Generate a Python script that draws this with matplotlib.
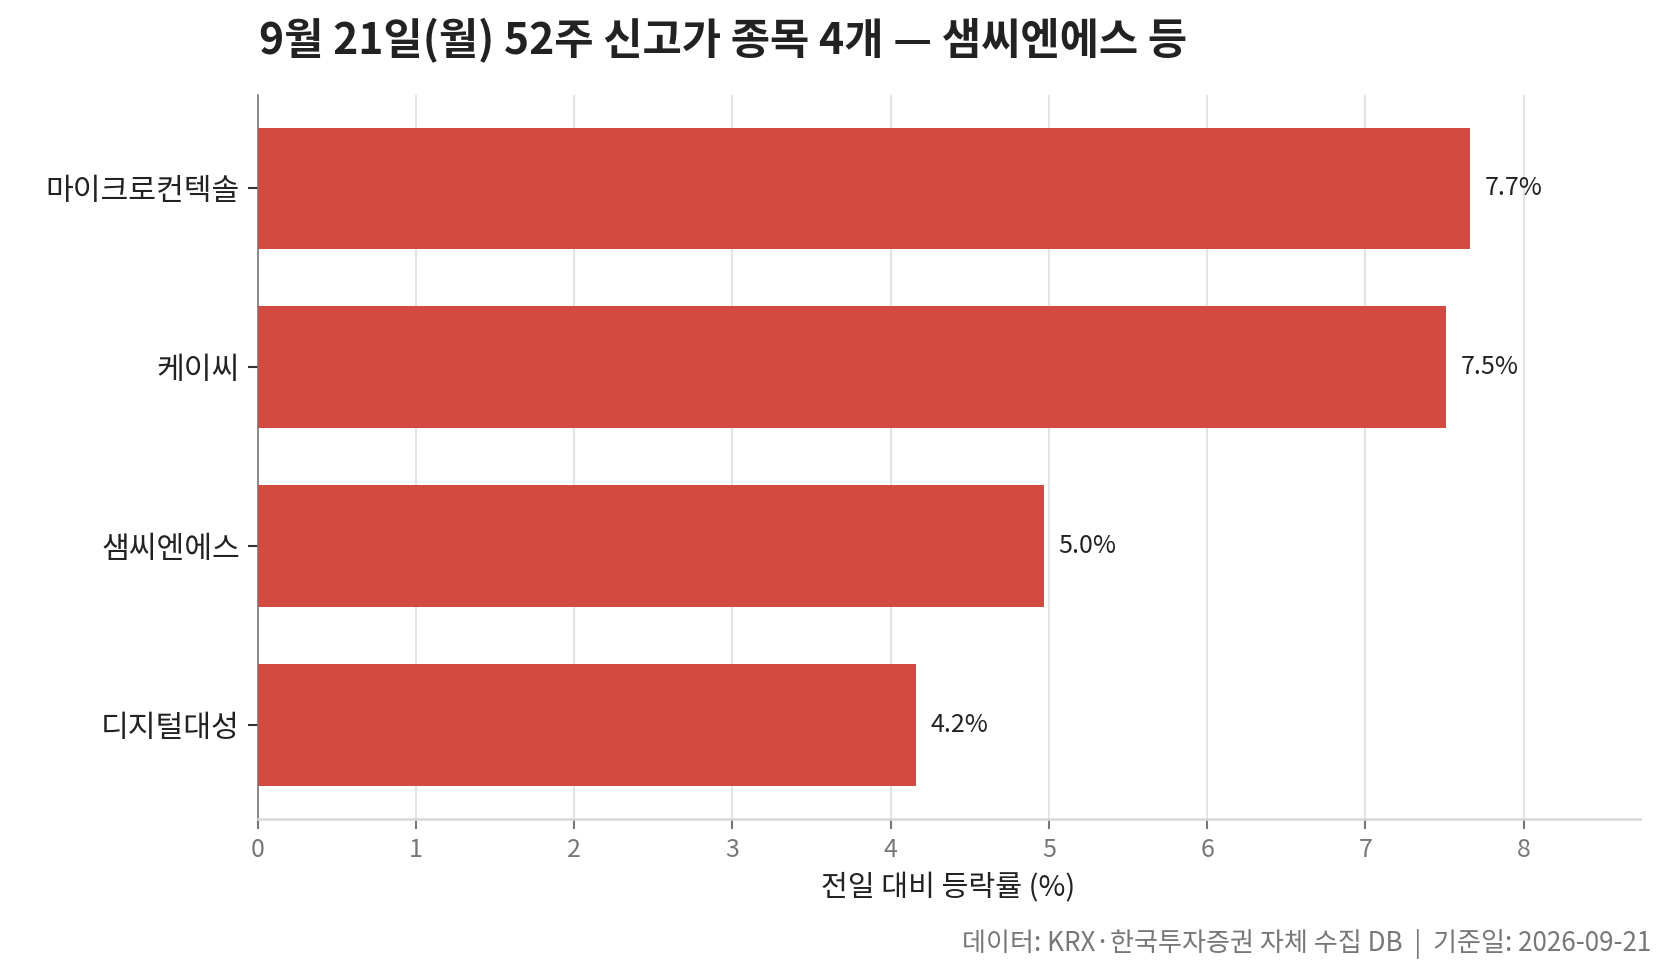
import numpy as np
import matplotlib.pyplot as plt

plt.rcParams['font.family'] = ['Noto Sans CJK KR', 'DejaVu Sans']

# 데이터
종목 = ['마이크로컨텍솔', '케이씨', '샘씨엔에스', '디지털대성']
등락률 = [7.66, 7.51, 4.97, 4.16]
라벨 = ['7.7%', '7.5%', '5.0%', '4.2%']

fig = plt.figure(figsize=(1673 / 150, 975 / 150), dpi=150)
ax = fig.add_axes([0.154, 0.160, 0.826, 0.743])

y = np.arange(len(종목))[::-1]
ax.barh(y, 등락률, height=0.68, color='#d24a40', zorder=2)

for yi, v, t in zip(y, 등락률, 라벨):
    ax.annotate(t, (v, yi), xytext=(7, 0), textcoords='offset points',
                va='center', ha='left', fontsize=12, color='#222222')

ax.set_yticks(y)
ax.set_yticklabels(종목, fontsize=14.5, color='#222222')
ax.set_xlim(0, max(등락률) * 1.14)
ax.set_xticks(range(0, 9))
ax.tick_params(axis='x', labelsize=12, colors='#777777', length=5, width=1)
ax.tick_params(axis='y', length=5, width=1, color='#333333')

ax.grid(axis='x', color='#e3e3e3', linewidth=1, zorder=0)
ax.set_axisbelow(True)
for s in ['top', 'right']:
    ax.spines[s].set_visible(False)
ax.spines['left'].set_color('#777777')
ax.spines['bottom'].set_color('#d9d9d9')
ax.spines['bottom'].set_linewidth(1.2)

ax.set_xlabel('전일 대비 등락률 (%)', fontsize=14, color='#222222', labelpad=5)
fig.text(0.155, 0.958, '9월 21일(월) 52주 신고가 종목 4개 — 샘씨엔에스 등',
         fontsize=20.5, fontweight='bold', color='#222222', va='center', ha='left')
fig.text(0.987, 0.032, '데이터: KRX·한국투자증권 자체 수집 DB  |  기준일: 2026-09-21',
         fontsize=12.5, color='#777777', ha='right', va='center')

fig.savefig('out.png', dpi=150)
